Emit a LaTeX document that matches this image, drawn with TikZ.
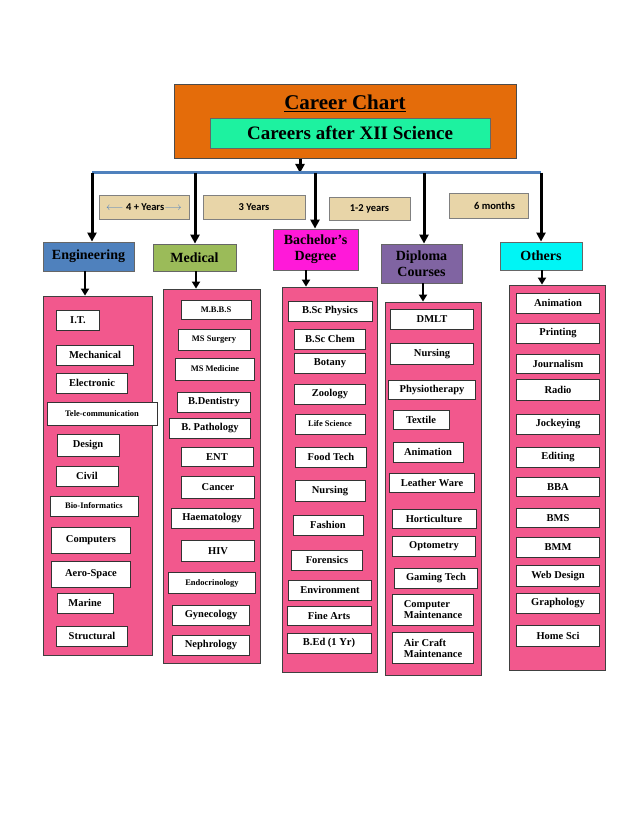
\documentclass[tikz,border=0pt]{standalone}
\usepackage{fontspec}
\setmainfont{Liberation Serif}
\newfontfamily\carlitofnt{Carlito}
\usetikzlibrary{arrows.meta}
\definecolor{pinkp}{HTML}{F2588D}
\definecolor{orng}{HTML}{E46C0A}
\definecolor{grn}{HTML}{1DF2A0}
\definecolor{tanb}{HTML}{E8D5A8}
\definecolor{blu}{HTML}{4F81BD}
\definecolor{cyn}{HTML}{00F5F5}
\tikzset{
 itm/.style={draw=black!80,fill=white,line width=0.8pt,minimum height=20pt,inner sep=1pt,font=\fontsize{10.5}{11}\selectfont\bfseries,align=left},
 pnl/.style={draw=black!75,fill=pinkp,line width=0.8pt},
 cat/.style={draw=black!60,line width=0.8pt,font=\fontsize{14}{16}\selectfont\bfseries,align=center,inner sep=1pt},
 dur/.style={draw=black!50,fill=tanb,font=\carlitofnt\fontsize{10.5}{11}\selectfont\bfseries,inner sep=1pt},
 arr/.style={-{Triangle[length=9pt,width=9pt]},line width=3pt},
 sarr/.style={-{Triangle[length=7pt,width=8pt]},line width=2.6pt}
}
\newcommand\itm[6][20]{\node[itm,minimum width=#5pt,minimum height=#1pt] (#2) at (#3,#4) {#6};}
\newcommand\sm{\fontsize{8.5}{9}\selectfont}
\begin{document}
\begin{tikzpicture}[x=1pt,y=-1pt]
\useasboundingbox[fill=white] (0,0) rectangle (638,826);
% header
\node[draw=black!70,fill=orng,minimum width=342pt,minimum height=74pt,anchor=north west,line width=0.8pt] (head) at (174,84) {};
\node[font=\fontsize{21}{23}\selectfont\bfseries] (title) at (345,103) {\underline{Career Chart}};
\node[draw=black!60,fill=grn,minimum width=280pt,minimum height=30pt,font=\fontsize{19}{21}\selectfont\bfseries] (sub) at (350,133) {Careers after XII Science};
\coordinate (hj) at (300,173);
\draw[arr] (head.south -| hj) -- (hj);
\coordinate (bl) at (92,173); \coordinate (br) at (541,173);
\draw[blu,line width=3pt] (bl) -- (br);
% categories
\node[cat,fill=blu,minimum width=91pt,minimum height=29pt] (eng) at (88.5,256.5) {Engineering};
\node[cat,fill={rgb,255:red,155;green,187;blue,89},minimum width=83pt,minimum height=27pt] (med) at (194.5,257.5) {Medical};
\node[cat,fill={rgb,255:red,255;green,25;blue,217},minimum width=85pt,minimum height=41pt] (bac) at (315.5,249.5) {Bachelor's\\Degree};
\node[cat,fill={rgb,255:red,128;green,100;blue,162},minimum width=81pt,minimum height=39pt] (dip) at (421.5,263.5) {Diploma\\Courses};
\node[cat,fill=cyn,minimum width=82pt,minimum height=28pt] (oth) at (541,256) {Others};
\foreach \n/\x in {eng/92,med/195,bac/315,dip/424,oth/541}{
  \coordinate (t\n) at (\x,173);
  \draw[arr] (t\n) -- (t\n |- \n.north);
}
% durations
\node[dur,minimum width=90pt,minimum height=24pt] (d1) at (144,207) {\textcolor{blu}{$\longleftarrow$} 4 + Years\textcolor{blu}{$\longrightarrow$}};
\node[dur,minimum width=102pt,minimum height=24pt] (d2) at (254,207) {3 Years};
\node[dur,minimum width=81pt,minimum height=23pt] (d3) at (369.5,208.5) {1-2 years};
\node[dur,minimum width=79pt,minimum height=25pt] (d4) at (488.5,205.5) {\hspace{12pt}6 months};
% panels
\node[pnl,minimum width=109pt,minimum height=359pt] (pe) at (97.5,475.5) {};
\node[pnl,minimum width=97pt,minimum height=374pt] (pm) at (211.5,476) {};
\node[pnl,minimum width=95pt,minimum height=385pt] (pb) at (329.5,479.5) {};
\node[pnl,minimum width=96pt,minimum height=373pt] (pd) at (433,488.5) {};
\node[pnl,minimum width=96pt,minimum height=385pt] (po) at (557,477.5) {};
\foreach \n/\p/\x in {eng/pe/85,med/pm/196,bac/pb/306,dip/pd/423,oth/po/542}{
  \coordinate (s\n) at (\x,0);
  \draw[sarr] (s\n |- \n.south) -- (s\n |- \p.north);
}
% engineering
\itm{e1}{78}{320}{43}{I.T.}
\itm{e2}{95}{355}{77}{Mechanical}
\itm{e3}{92}{383}{71}{Electronic}
\itm[23]{e4}{102}{414}{110}{\sm Tele-communication}
\itm[22]{e5}{88}{445}{62}{Design}
\itm{e6}{87}{476}{62}{Civil}
\itm{e7}{94}{506}{88}{\sm Bio-Informatics}
\itm[26]{e8}{91}{540}{79}{Computers}
\itm[26]{e9}{91}{574}{79}{Aero-Space}
\itm{e10}{85}{603}{56}{Marine}
\itm{e11}{92}{636}{71}{Structural}
% medical
\itm[19]{m1}{216}{310}{70}{\sm M.B.B.S}
\itm[21]{m2}{214}{340}{72}{\sm MS Surgery}
\itm[22]{m3}{215}{369}{79}{\sm MS Medicine}
\itm{m4}{214}{402}{73}{B.Dentistry}
\itm{m5}{210}{428}{81}{B. Pathology}
\itm[19]{m6}{217}{457}{72}{ENT}
\itm[22]{m7}{218}{487}{73}{Cancer}
\itm{m8}{212}{518}{82}{Haematology}
\itm[21]{m9}{218}{551}{73}{HIV}
\itm[21]{m10}{212}{583}{87}{\sm Endocrinology}
\itm{m11}{211}{615}{77}{Gynecology}
\itm{m12}{211}{645}{77}{Nephrology}
% bachelor
\itm{b1}{330}{311}{84}{B.Sc Physics}
\itm{b2}{330}{339}{71}{B.Sc Chem}
\itm{b3}{330}{363}{71}{Botany}
\itm{b4}{330}{394}{71}{Zoology}
\itm{b5}{330}{424}{70}{\sm Life Science}
\itm{b6}{331}{457}{71}{Food Tech}
\itm[21]{b7}{330}{491}{70}{Nursing}
\itm{b8}{328}{525}{70}{Fashion}
\itm{b9}{327}{560}{71}{Forensics}
\itm{b10}{330}{590}{83}{Environment}
\itm[19]{b11}{329}{616}{84}{Fine Arts}
\itm{b12}{329}{643}{84}{B.Ed (1 Yr)}
% diploma
\itm{d1x}{432}{319}{83}{DMLT}
\itm[21]{d2x}{432}{354}{83}{Nursing}
\itm[19]{d3x}{432}{390}{87}{Physiotherapy}
\itm[19]{d4x}{421}{420}{56}{Textile}
\itm{d5x}{428}{452}{70}{Animation}
\itm[19]{d6x}{432}{483}{85}{Leather Ware}
\itm[19]{d7x}{434}{519}{84}{Horticulture}
\itm{d8x}{434}{546}{83}{Optometry}
\itm{d9x}{436}{578}{83}{Gaming Tech}
\itm[31]{d10x}{433}{610}{81}{Computer\\Maintenance}
\itm[31]{d11x}{433}{648}{81}{Air Craft\\Maintenance}
% others
\itm{o1}{558}{303}{83}{Animation}
\itm{o2}{558}{333}{83}{Printing}
\itm[19]{o3}{558}{364}{83}{Journalism}
\itm[21]{o4}{558}{390}{83}{Radio}
\itm{o5}{558}{424}{83}{Jockeying}
\itm{o6}{558}{457}{83}{Editing}
\itm[19]{o7}{558}{487}{83}{BBA}
\itm[19]{o8}{558}{518}{83}{BMS}
\itm{o9}{558}{547}{83}{BMM}
\itm[21]{o10}{558}{576}{83}{Web Design}
\itm{o11}{558}{603}{83}{Graphology}
\itm[21]{o12}{558}{636}{83}{Home Sci}
\end{tikzpicture}
\end{document}
